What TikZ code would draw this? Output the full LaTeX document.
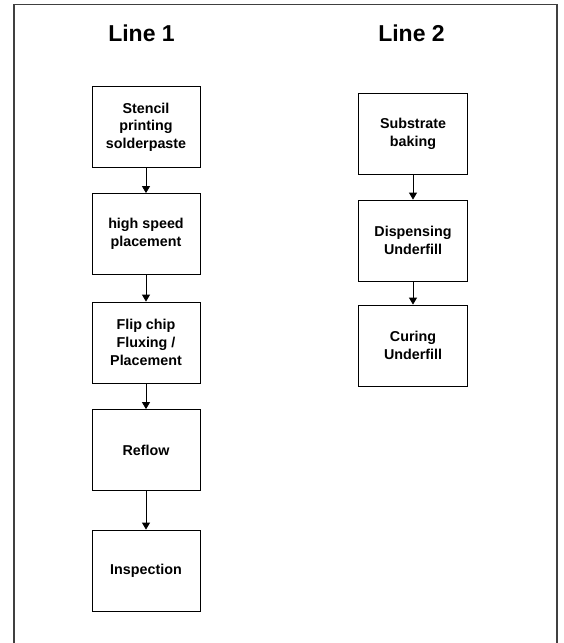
\documentclass[tikz,border=0pt]{standalone}
\usepackage{fontspec}
\setmainfont{Liberation Sans}
\usetikzlibrary{arrows.meta}
\begin{document}
\begin{tikzpicture}[x=1pt,y=-1pt,
  stepbox/.style={draw=black,line width=0.8pt,minimum width=108pt,minimum height=81pt,
    align=center,font=\fontsize{14.3}{17.7}\selectfont\bfseries,inner sep=0pt},
  title/.style={font=\fontsize{23}{26}\selectfont\bfseries},
  flow/.style={draw=black,line width=0.8pt,-{Triangle[length=7pt,width=8pt]}}]
\useasboundingbox (0,0) rectangle (564,643);
\draw[line width=1.4pt,draw=black!75] (14,650) -- (14,4.3) -- (557,4.3) -- (557,650);
\node[title,anchor=base] (t1) at (141.5,41) {Line 1};
\node[title,anchor=base] (t2) at (411.5,41) {Line 2};
\node[stepbox] (a1) at (146,127) {Stencil\\printing\\solderpaste};
\node[stepbox] (a2) at (146,234) {high speed\\placement};
\node[stepbox] (a3) at (146,342.5) {Flip chip\\Fluxing /\\Placement};
\node[stepbox] (a4) at (146,450) {Reflow};
\node[stepbox] (a5) at (146,570.5) {Inspection};
\node[stepbox,minimum width=109pt] (b1) at (413,133.5) {Substrate\\baking};
\node[stepbox,minimum width=109pt] (b2) at (413,240.5) {Dispensing\\Underfill};
\node[stepbox,minimum width=109pt] (b3) at (413,345.5) {Curing\\Underfill};
\draw[flow] (a1) -- (a2);
\draw[flow] (a2) -- (a3);
\draw[flow] (a3) -- (a4);
\draw[flow] (a4) -- (a5);
\draw[flow] (b1) -- (b2);
\draw[flow] (b2) -- (b3);
\end{tikzpicture}
\end{document}
